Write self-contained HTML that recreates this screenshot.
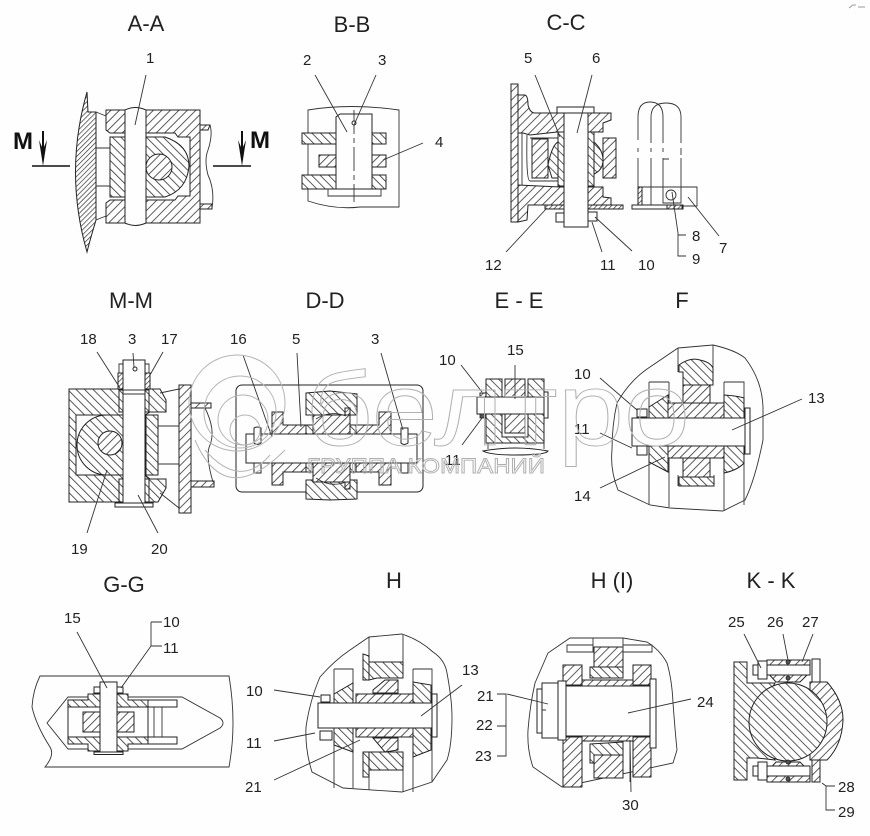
<!DOCTYPE html>
<html><head><meta charset="utf-8"><style>
html,body{margin:0;padding:0;background:#fdfefd}
svg{display:block}
text{font-family:"Liberation Sans",sans-serif;fill:#222}
.t{font-size:22px;text-anchor:middle}
.n{font-size:15px}
.m{font-size:24px;font-weight:bold;fill:#111}
.l{fill:none;stroke:#333;stroke-width:.9}
.o{fill:#fdfefd;stroke:#222;stroke-width:1}
.f{fill:url(#f);stroke:#222;stroke-width:1}
.b{fill:url(#b);stroke:#222;stroke-width:1}
.ff{fill:url(#ff);stroke:#222;stroke-width:1}
.bb{fill:url(#bb);stroke:#222;stroke-width:1}
.d{fill:#555;stroke:#222;stroke-width:.8}
.w{fill:none;stroke:#b5b5b5;stroke-width:1}
.wt{fill:none;stroke:#b0b0b0;stroke-width:.9}
</style></head><body>
<svg xmlns="http://www.w3.org/2000/svg" width="870" height="836" viewBox="0 0 870 836">
<defs>
<pattern id="f" width="6" height="6" patternUnits="userSpaceOnUse" patternTransform="rotate(45)"><rect width="6" height="6" fill="#fdfefd"/><line x1="0" y1="0" x2="0" y2="6" stroke="#333" stroke-width="1.6"/></pattern>
<pattern id="b" width="6" height="6" patternUnits="userSpaceOnUse" patternTransform="rotate(-45)"><rect width="6" height="6" fill="#fdfefd"/><line x1="0" y1="0" x2="0" y2="6" stroke="#333" stroke-width="1.6"/></pattern>
<pattern id="ff" width="3.5" height="3.5" patternUnits="userSpaceOnUse" patternTransform="rotate(45)"><rect width="3.5" height="3.5" fill="#fdfefd"/><line x1="0" y1="0" x2="0" y2="3.5" stroke="#333" stroke-width="1.4"/></pattern>
<pattern id="bb" width="3.5" height="3.5" patternUnits="userSpaceOnUse" patternTransform="rotate(-45)"><rect width="3.5" height="3.5" fill="#fdfefd"/><line x1="0" y1="0" x2="0" y2="3.5" stroke="#333" stroke-width="1.4"/></pattern>
</defs>
<rect width="870" height="836" fill="#fdfefd"/>

<!-- Titles -->
<text class="t" x="146" y="31">A-A</text><text class="t" x="352" y="32">B-B</text><text class="t" x="566" y="30">C-C</text>
<text class="t" x="131" y="308">M-M</text><text class="t" x="325" y="308">D-D</text><text class="t" x="519" y="308">E - E</text><text class="t" x="682" y="308">F</text>
<text class="t" x="124" y="592">G-G</text><text class="t" x="394" y="588">H</text><text class="t" x="612" y="588">H (I)</text><text class="t" x="771" y="588">K - K</text>

<!-- A-A -->
<path class="ff" d="M87,92Q64,172 87,252Q90,240 96,220V112H88Z"/>
<path class="l" d="M96,112L106,116M96,220L106,216M96,148H110M96,186H110"/>
<path class="f" d="M106,110H200V223H106V203L110,200H175L178,196H190V137H178L175,133H110L106,130Z"/>
<rect class="b" x="110" y="137" width="16" height="60"/>
<path class="b" d="M125,137H165Q189,145 189,166Q187,190 165,197H125Z"/>
<circle class="f" cx="159" cy="167" r="13"/>
<path class="o" d="M125,110Q135,105 146,110V223Q135,228 125,223Z"/>
<path class="l" d="M200,125H210Q213,135 208,150Q204,160 208,175Q215,190 212,208H200"/>
<path class="f" d="M200,125H210L208,130H200ZM200,204H212V209H200Z"/>
<path class="l" d="M32,166H70M213,166H251" style="stroke-width:1.4;stroke:#111"/>
<path fill="#111" d="M42,131H44V147L47,140L43,166L39,140L42,147ZM241,131H243V147L246,140L242,166L238,140L241,147Z"/>
<text class="m" x="13" y="149">M</text><text class="m" x="250" y="148">M</text>
<text class="n" x="146" y="63">1</text>
<path class="l" d="M146,75L135,125"/>

<!-- B-B -->
<path class="l" d="M308,110Q350,103 399,110V207H360Q335,210 308,201Z"/>
<path class="b" d="M302,133H337V144H302ZM372,133H386V144H372ZM302,175H337V189H302ZM372,175H386V189H372Z"/>
<path class="f" d="M319,155H337V167H319ZM372,155H386V167H372Z"/>
<path class="l" d="M328,189V196H381V189"/>
<path class="o" d="M336,189V117L340,114H372V189Z"/>
<path class="l" d="M354,110V202" stroke-dasharray="24 4 5 4"/>
<circle class="o" cx="354" cy="123" r="2"/>
<path class="l" d="M315,75L347,132M376,75L354,125M423,143L383,160"/>
<text class="n" x="303" y="65">2</text><text class="n" x="378" y="65">3</text><text class="n" x="435" y="147">4</text>

<!-- C-C -->
<path class="f" d="M511,84H518V222H511Z"/>
<path class="f" d="M518,95H525Q528,96 528,105Q530,113 535,113H611V120L603,123V132H557L530,135L523,133H518Z"/>
<path class="f" d="M518,185L560,187H603V197L611,198V205H528L527,220L518,222Z"/>
<path class="l" d="M522,133V185M527,135Q526,181 530,181H558M530,138H558"/>
<rect class="f" x="532" y="139" width="16" height="39"/><rect class="f" x="603" y="138" width="13" height="40"/>
<path class="b" d="M548,165Q552,145 558,142V178H552ZM594,142Q603,150 603,160Q603,170 594,174Z"/>
<rect class="b" x="558" y="132" width="6" height="54"/><rect class="b" x="588" y="132" width="6" height="54"/>
<rect class="ff" x="545" y="205" width="78" height="4"/>
<rect class="o" x="557" y="107" width="37" height="6"/>
<rect class="o" x="556" y="213" width="8" height="9"/><rect class="o" x="588" y="212" width="9" height="9"/>
<rect class="o" x="564" y="113" width="24" height="114"/>
<path class="l" d="M535,75L560,137M592,75L577,133M506,252L547,208M602,252L592,222M632,251L595,217"/>
<text class="n" x="524" y="63">5</text><text class="n" x="592" y="63">6</text><text class="n" x="485" y="270">12</text><text class="n" x="600" y="270">11</text><text class="n" x="638" y="270">10</text>
<path class="l" d="M638,140V117Q638,102 650,102Q663,102 663,117V143M638,148V152M638,158V187M663,148V152M663,158V187"/>
<path class="l" d="M651,143V117Q651,103 666,103Q681,103 681,117V143M651,148V152M651,158V205M681,148V155M681,158V187"/>
<path class="l" d="M638,187H697V206H683"/>
<rect class="ff" x="638" y="187" width="4" height="18"/>
<path class="l" d="M663,187V203H681V187M663,159H669"/>
<circle class="l" cx="671" cy="195" r="5"/>
<rect class="o" x="632" y="205" width="51" height="4"/>
<rect class="ff" x="667" y="205" width="15" height="4"/>
<path class="l" d="M719,236L688,197M672,192L678,233V256H686M678,235H686"/>
<text class="n" x="692" y="241">8</text><text class="n" x="692" y="264">9</text><text class="n" x="719" y="253">7</text>

<!-- M-M -->
<path class="b" d="M69,389H160L166,400V412H150L145,415H76V475H145L150,479H166V488L158,502H69Z"/>
<path class="b" d="M123,415H107A28,28 0 0 0 107,475H123Z"/>
<circle class="f" cx="110" cy="443" r="12"/>
<rect class="b" x="146" y="415" width="12" height="60"/>
<path class="l" d="M160,393L179,389M160,493L179,508M158,426H179M158,464H179"/>
<rect class="f" x="179" y="385" width="12" height="128"/>
<path class="f" d="M191,403H211V408H191ZM191,481H214V487H191Z"/>
<path class="l" d="M205,408Q216,430 210,445Q205,455 213,482"/>
<rect class="ff" x="118" y="373" width="5" height="16"/><rect class="ff" x="145" y="373" width="5" height="16"/>
<rect class="b" x="119" y="390" width="4" height="22"/><rect class="b" x="145" y="390" width="4" height="22"/>
<rect class="b" x="119" y="479" width="4" height="23"/><rect class="b" x="145" y="479" width="4" height="23"/>
<path class="l" d="M119,373V364H123M145,364H149V373"/>
<rect class="o" x="115" y="503" width="38" height="4"/>
<rect class="o" x="123" y="360" width="22" height="143"/>
<path class="l" d="M123,390H145M123,394H145"/>
<circle class="o" cx="135" cy="369" r="2"/>
<path class="l" d="M97,352L120,388M133,353L134,367M163,352L150,375M87,533L107,470M158,533L138,495"/>
<text class="n" x="80" y="344">18</text><text class="n" x="128" y="344">3</text><text class="n" x="161" y="344">17</text><text class="n" x="71" y="554">19</text><text class="n" x="151" y="554">20</text>

<!-- D-D -->
<rect x="236" y="385" width="187" height="107" rx="6" fill="none" stroke="#222"/>
<path class="f" d="M272,412H283V425H306V434H272Z"/>
<path class="f" d="M379,412H391V434H356V425H379Z"/>
<path class="f" d="M272,485H283V472H306V463H272Z"/>
<path class="f" d="M379,485H391V463H356V472H379Z"/>
<path class="b" d="M306,393L330,391L357,394V415H306Z"/>
<path class="b" d="M306,480H357V499L330,500L306,499Z"/>
<path class="f" d="M313,415H350V434H313Z"/><path class="f" d="M313,463H350V482H313Z"/>
<path class="b" d="M306,425H313V434H306ZM350,425H356V434H350ZM306,463H313V472H306ZM350,463H356V472H350Z"/>
<path class="ff" d="M345,408H350V415H345ZM345,482H350V489H345Z"/>
<path class="l" d="M316,419Q330,410 346,416M316,478Q330,488 346,482"/>
<rect class="o" x="246" y="434" width="171" height="29"/>
<path class="o" d="M254,443V428Q257,426 261,428V443Q257,446 254,443Z"/>
<path class="o" d="M401,443V428H408V443Q404,446 401,443Z"/>
<rect class="o" x="254" y="463" width="7" height="10"/><rect class="o" x="401" y="463" width="7" height="10"/>
<path class="l" d="M243,355L272,437M297,353L301,427M381,353L403,430"/>
<text class="n" x="230" y="344">16</text><text class="n" x="292" y="344">5</text><text class="n" x="371" y="344">3</text>

<!-- E-E -->
<rect class="b" x="486" y="379" width="16" height="18"/><rect class="f" x="505" y="379" width="20" height="18"/><rect class="b" x="528" y="379" width="16" height="18"/>
<path class="b" d="M486,414H502V437H528V414H544V443H486Z"/>
<rect class="f" x="505" y="414" width="20" height="19"/>
<rect class="o" x="544" y="392" width="4" height="26"/>
<rect class="o" x="477" y="397" width="67" height="17"/>
<rect class="ff" x="480" y="393" width="6" height="4"/><rect class="d" x="480" y="414" width="6" height="4"/>
<path class="o" d="M483,451Q515,445 548,451Q546,455 515,455Q490,455 483,451Z"/>
<path class="l" d="M488,443V449M544,443V449M461,365L482,392M462,445L482,418M515,365V399"/>
<text class="n" x="439" y="365">10</text><text class="n" x="507" y="355">15</text><text class="n" x="445" y="465">11</text>

<!-- F -->
<path class="l" d="M678,348L713,345Q735,350 745,358Q762,380 763,407L763,440Q755,480 745,500L723,511L670,508L650,505L618,490Q610,470 612,450Q612,425 617,403Q630,380 650,367Z"/>
<path class="l" d="M678,348V372M713,345V372M649,382H669M649,382V505M669,382V507M724,382H744V505M724,382V511M678,475V486M714,475V486"/>
<path class="b" d="M679,372V365Q690,357 700,360Q710,362 713,368V385H683V372Z"/>
<rect class="f" x="683" y="385" width="27" height="20"/>
<rect class="b" x="679" y="477" width="35" height="9"/>
<rect class="f" x="683" y="446" width="27" height="31"/>
<path class="b" d="M649,407L668,395V418H649ZM649,446H668V472L649,462Z"/>
<path class="b" d="M724,395Q738,396 744,398V418H724ZM724,446H744V463Q738,470 724,473Z"/>
<path class="f" d="M668,403H724V418H668ZM668,446H724V458H668Z"/>
<rect class="o" x="637" y="409" width="10" height="8"/><rect class="o" x="637" y="446" width="10" height="9"/>
<rect class="o" x="745" y="408" width="5" height="46"/>
<rect class="o" x="632" y="418" width="113" height="28"/>
<path class="l" d="M600,378L637,410M600,433L632,448M600,488L665,457M802,399L732,430"/>
<text class="n" x="574" y="379">10</text><text class="n" x="574" y="434">11</text><text class="n" x="574" y="501">14</text><text class="n" x="808" y="403">13</text>

<!-- G-G -->
<path class="l" d="M40,676H229Q233,700 233,723Q233,745 229,767H45Q55,755 50,747Q36,725 32,707Q33,690 40,676Z"/>
<path class="l" d="M68,697H182L220,718Q226,723 220,728L182,749H68L47,723Z"/>
<rect class="o" x="68" y="707" width="80" height="30"/>
<path class="b" d="M68,700H88V694H128V700H148V707H68Z"/>
<path class="b" d="M68,737H148V744H128V751H88V744H68Z"/>
<rect class="o" x="148" y="700" width="29" height="7"/><rect class="o" x="148" y="737" width="29" height="7"/>
<path class="l" d="M154,707V737M162,707V737"/>
<rect class="f" x="83" y="712" width="51" height="20"/>
<rect class="o" x="94" y="752" width="29" height="2.5"/>
<rect class="o" x="100" y="682" width="17" height="70"/>
<rect class="o" x="94" y="687" width="6" height="6"/><rect class="o" x="117" y="687" width="6" height="6"/>
<path class="l" d="M77,632L107,688M151,622H162M151,622V646H162M151,646L121,688"/>
<text class="n" x="64" y="623">15</text><text class="n" x="163" y="627">10</text><text class="n" x="163" y="653">11</text>

<!-- H -->
<path class="l" d="M369,637L402,634Q420,640 433,652Q445,660 447,673Q452,700 452,717Q452,745 447,760L432,782L402,792L343,788L312,772Q305,750 306,727Q310,700 320,677Q335,660 350,650Z"/>
<path class="l" d="M369,637V662M403,634V662M334,669H353V788M334,669V788M413,669H432V782M413,669V792M369,770V790M403,770V792"/>
<path class="b" d="M369,662H403V678H377L369,680Z"/><path class="b" d="M363,654L369,656V680L363,680Z"/>
<path class="f" d="M373,690L385,680H398V693H373Z"/>
<path class="b" d="M369,752H403V770H369Z"/><path class="b" d="M363,752H369V777H363Z"/>
<path class="f" d="M373,738H398V750L385,752Z"/>
<path class="b" d="M334,694L353,683V703H334ZM334,728H353V752L334,745Z"/>
<path class="b" d="M413,682L431,685V703H413ZM413,728H431V750L413,757Z"/>
<path class="f" d="M356,694H413V703H356ZM356,728H413V737H356Z"/>
<rect class="o" x="321" y="695" width="9" height="7"/><rect class="o" x="320" y="731" width="12" height="9"/>
<rect class="o" x="432" y="694" width="5" height="43"/>
<rect class="o" x="318" y="703" width="114" height="25"/>
<path class="l" d="M274,690L320,697M274,741L315,733M274,780L360,740M462,685L421,716"/>
<text class="n" x="246" y="696">10</text><text class="n" x="246" y="748">11</text><text class="n" x="245" y="792">21</text><text class="n" x="462" y="675">13</text>

<!-- H (I) -->
<path class="l" d="M570,638L593,638L623,638L647,642Q660,650 667,663Q672,680 673,703Q675,730 677,750L673,763L562,787L533,767Q527,750 528,730Q530,705 535,683L548,653Z"/>
<path class="f" d="M563,665H582V685H563ZM633,665H651V685H633ZM563,737H582V787H563ZM633,737H651V777H633Z"/>
<rect class="f" x="594" y="647" width="29" height="20"/><path class="b" d="M590,667H623V678H590Z"/>
<rect class="f" x="594" y="755" width="29" height="23"/><path class="b" d="M590,744L623,742V755H594V763H590Z"/>
<path class="l" d="M567,645H593V652H567ZM623,645H652V652H623ZM593,638V647M623,638V647M630,740V782"/>
<path class="f" d="M582,680H633V686H582ZM582,736H633V741H582Z"/>
<rect class="o" x="537" y="689" width="5" height="44"/>
<rect class="o" x="542" y="683" width="16" height="55"/>
<rect class="o" x="558" y="681" width="8" height="59"/>
<rect class="o" x="650" y="679" width="6" height="69"/>
<rect class="o" x="566" y="686" width="84" height="50"/>
<path class="l" d="M691,699L628,713M507,694L548,704M497,694H506V756H497M497,726H506M631,792L630,740M542,710H546"/>
<text class="n" x="477" y="701">21</text><text class="n" x="476" y="730">22</text><text class="n" x="475" y="761">23</text><text class="n" x="697" y="707">24</text><text class="n" x="622" y="810">30</text>

<!-- K-K -->
<path class="b" d="M734,662L747,662V683H757L775,683L752,722L775,760L757,758H747V780H734Z"/>
<path class="f" d="M810,682H827Q843,700 843,720Q842,745 827,760H810Z"/>
<circle class="b" cx="788" cy="722" r="39"/>
<path class="f" d="M767,660H810V672L800,682H776L767,672Z"/>
<path class="f" d="M767,772L776,762H800L810,772V782H767Z"/>
<rect class="o" x="767" y="665" width="43" height="10"/><rect class="o" x="767" y="766" width="43" height="10"/>
<rect class="o" x="753" y="665" width="7" height="10"/><rect class="o" x="758" y="661" width="9" height="18"/>
<rect class="o" x="753" y="766" width="7" height="10"/><rect class="o" x="758" y="762" width="9" height="18"/>
<rect class="o" x="812" y="659" width="8" height="23"/><rect class="f" x="812" y="760" width="8" height="22"/>
<circle class="d" cx="788" cy="662" r="2"/><circle class="d" cx="788" cy="678" r="2"/><circle class="d" cx="788" cy="762" r="2"/><circle class="d" cx="788" cy="779" r="2"/>
<path class="l" d="M744,634L761,668M783,634L788,660M813,634L802,662M822,783L826,786H835M826,786V810H835"/>
<text class="n" x="728" y="627">25</text><text class="n" x="767" y="627">26</text><text class="n" x="802" y="627">27</text><text class="n" x="838" y="792">28</text><text class="n" x="838" y="817">29</text>

<!-- Watermark -->
<circle class="w" cx="237" cy="403" r="48"/><circle class="w" cx="240" cy="412" r="36"/><circle class="w" cx="243" cy="420" r="25"/><circle class="w" cx="245" cy="430" r="15"/>
<path class="w" d="M205,450Q240,490 270,455M195,440Q225,510 285,450"/>
<text class="wt" x="305" y="445" textLength="385" lengthAdjust="spacingAndGlyphs" style="font-size:104px">белтро</text>
<text class="wt" x="307" y="473" textLength="238" lengthAdjust="spacingAndGlyphs" style="font-size:21px">ГРУППА КОМПАНИЙ</text>
<path d="M849,8L853,5H856M858,7H865" stroke="#999" fill="none"/>
</svg>
</body></html>
